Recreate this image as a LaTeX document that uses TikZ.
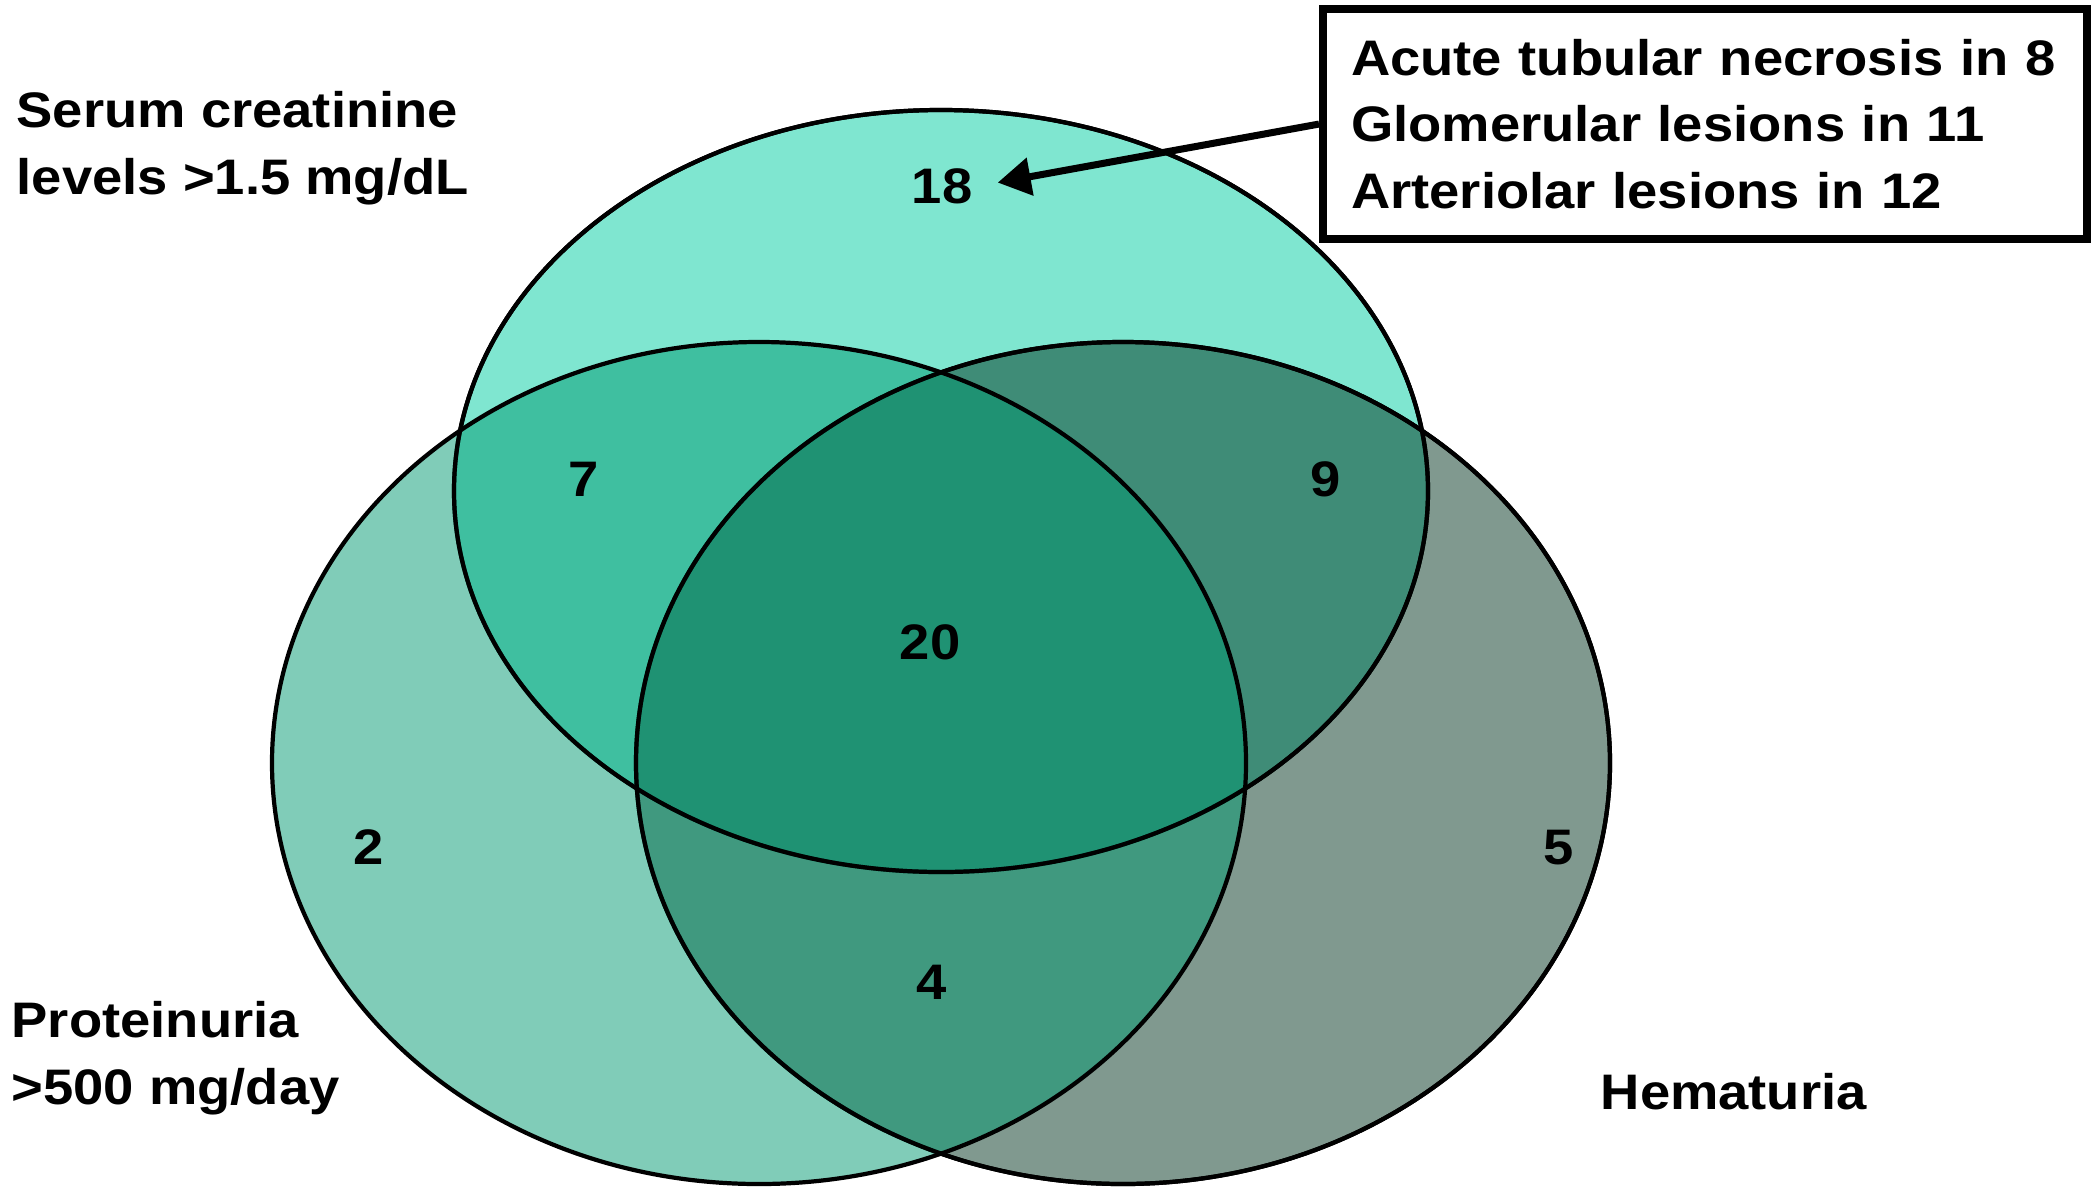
\documentclass[tikz,border=0pt]{standalone}
\usepackage{fontspec}
\setmainfont[FakeStretch=1.09]{Liberation Sans}
\usepackage{xcolor}
\usetikzlibrary{arrows.meta,positioning}
\definecolor{serum}  {HTML}{00CDA1}
\definecolor{hemat}  {HTML}{01331F}
\definecolor{protein}{HTML}{019971}

\tikzset{
  set/.style={draw=black, line width=1.2pt, fill opacity=0.5},
  count/.style={font=\bfseries\fontsize{14.2}{19}\selectfont, anchor=base, inner sep=2pt},
  setlabel/.style={font=\bfseries\fontsize{14.2}{19}\selectfont, align=left, anchor=base west, inner sep=0pt},
  infobox/.style={draw=black, line width=2.3pt, fill=white, align=left, text width=7.08cm,
                  inner xsep=0.28cm, minimum height=2.3cm,
                  font=\bfseries\fontsize{14.2}{19}\selectfont},
  callout/.style={line width=2pt, -{Triangle[length=0.33cm, width=0.37cm]}, shorten >=0.18cm}
}

\begin{document}
\begin{tikzpicture}
  \useasboundingbox (0,0) rectangle (20.96,-11.86);
  % the three sets, drawn top, right, left
  \fill[set, fill=serum]   (9.41,-4.91)  ellipse [x radius=4.87cm, y radius=3.81cm];
  \fill[set, fill=hemat]   (11.23,-7.63) ellipse [x radius=4.87cm, y radius=4.21cm];
  \fill[set, fill=protein] (7.59,-7.63)  ellipse [x radius=4.87cm, y radius=4.21cm];
  \draw[set, fill opacity=0] (9.41,-4.91) ellipse [x radius=4.87cm, y radius=3.81cm];
  \draw[set, fill opacity=0] (11.23,-7.63) ellipse [x radius=4.87cm, y radius=4.21cm];
  % region counts
  \foreach \lab/\x/\y in {18/9.42/2.03, 7/5.84/4.96, 9/13.26/4.96, 20/9.30/6.59,
                          2/3.69/8.64, 5/15.59/8.64, 4/9.32/9.99}{
    \node[count] (n\lab) at (\x,-\y) {\lab};
  }
  % set names
  \node[setlabel] (serumlab) at (0.16,-1.94) {Serum creatinine\\levels >1.5 mg/dL};
  \node[setlabel] (protlab)  at (0.11,-11.04) {Proteinuria\\>500 mg/day};
  \node[setlabel] (hemlab)   at (16.00,-11.09) {Hematuria};
  % biopsy findings
  \node[infobox, anchor=north west] (findings) at (13.19,-0.05)
    {Acute tubular necrosis in 8\\Glomerular lesions in 11\\Arteriolar lesions in 12};
  \draw[callout] (findings.west) -- (n18.east);
\end{tikzpicture}
\end{document}
